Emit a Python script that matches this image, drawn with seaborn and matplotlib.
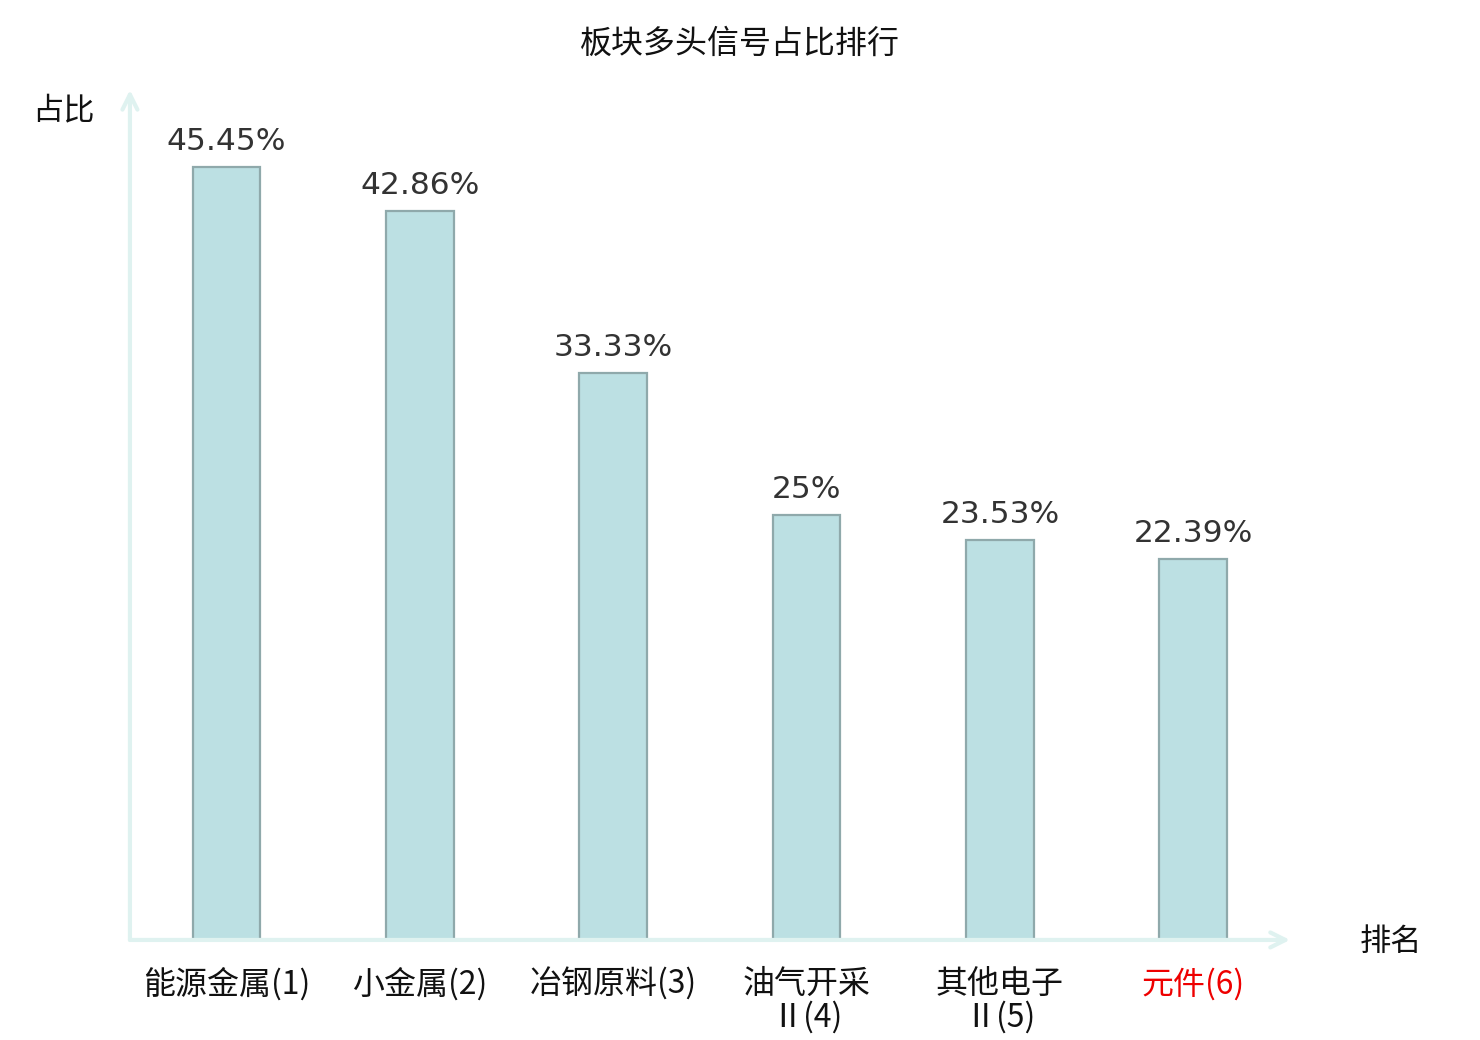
import matplotlib
matplotlib.use("Agg")
import matplotlib.pyplot as plt
import seaborn as sns
import pandas as pd

# 数据
sectors = ["能源金属(1)", "小金属(2)", "冶钢原料(3)", "油气开采\nⅡ(4)", "其他电子\nⅡ(5)", "元件(6)"]
ratios = [45.45, 42.86, 33.33, 25, 23.53, 22.39]
highlight = "元件(6)"

df = pd.DataFrame({"sector": sectors, "ratio": ratios})

sns.set_theme(style="white")
plt.rcParams["font.family"] = ["Noto Sans CJK SC", "DejaVu Sans"]

fig = plt.figure(figsize=(14.8, 10.4), dpi=100)
ax = fig.add_axes([0.0878, 0.0962, 0.7838, 0.8173])

sns.barplot(
    data=df, x="sector", y="ratio", ax=ax,
    color="#bce0e3", saturation=1, width=0.35,
    edgecolor="#8fa9ab", linewidth=1.6,
)

ax.set_ylim(0, 50)
ax.set_xlim(-0.5, 5.5)
ax.set_xlabel("")
ax.set_ylabel("")
ax.set_yticks([])
for s in ax.spines.values():
    s.set_visible(False)

# 数值标签
ax.bar_label(ax.containers[0], labels=[f"{v:g}%" for v in ratios],
             padding=8, fontsize=22.5, color="#333333", family="DejaVu Sans")

# 坐标轴箭头
axis_color = "#dff2f0"
ax.annotate("", xy=(1.0, 0), xytext=(0, 0), xycoords="axes fraction",
            arrowprops=dict(arrowstyle="->,head_length=0.9,head_width=0.45",
                            color=axis_color, lw=3, shrinkA=0, shrinkB=0),
            annotation_clip=False)
ax.annotate("", xy=(0, 1.0), xytext=(0, 0), xycoords="axes fraction",
            arrowprops=dict(arrowstyle="->,head_length=0.9,head_width=0.45",
                            color=axis_color, lw=3, shrinkA=0, shrinkB=0),
            annotation_clip=False)

ax.tick_params(axis="x", length=0, pad=20, labelsize=23)
for lbl in ax.get_xticklabels():
    lbl.set_linespacing(1.05)
    lbl.set_color("#ee0000" if lbl.get_text() == highlight else "#111111")

fig.text(0.5, 0.958, "板块多头信号占比排行", ha="center", va="center", fontsize=23, color="#111111")
fig.text(0.043, 0.894, "占比", ha="center", va="center", fontsize=22.5, color="#111111")
fig.text(0.94, 0.094, "排名", ha="center", va="center", fontsize=22.5, color="#111111")

fig.savefig("out.png", dpi=100)
